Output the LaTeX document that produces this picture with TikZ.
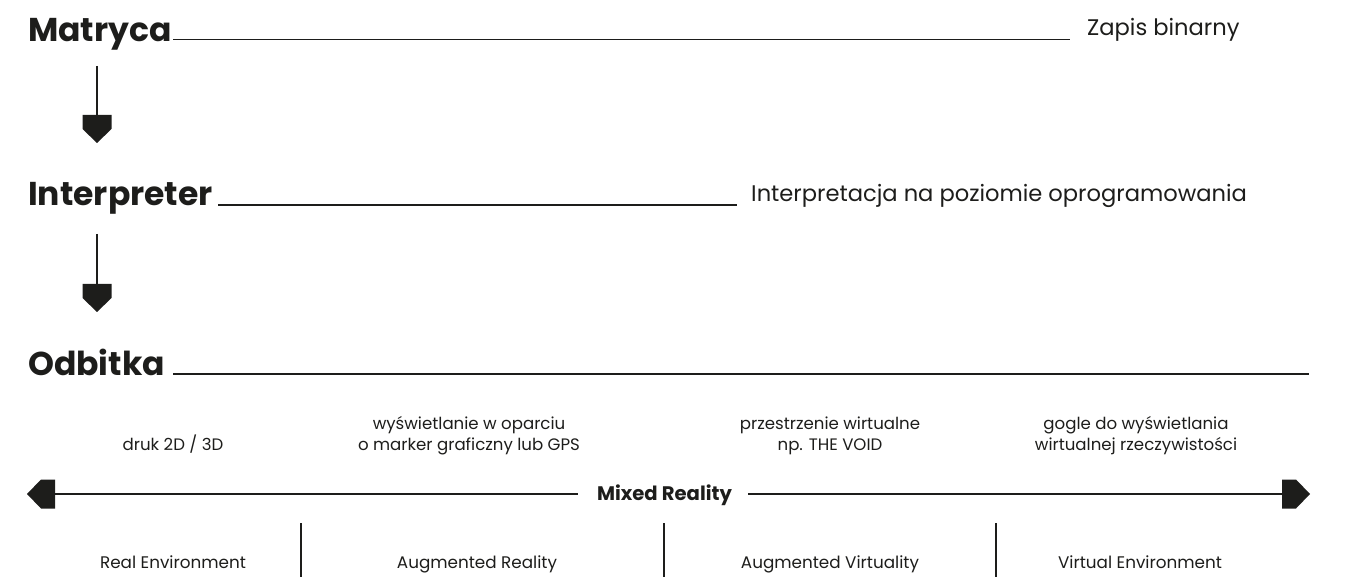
\documentclass[tikz,border=0pt]{standalone}
\usepackage{fontspec}
\setmainfont{Poppins}
\definecolor{ink}{HTML}{1D1D1B}
\begin{document}
\begin{tikzpicture}[x=1pt,y=-1pt,
  title/.style={font=\bfseries\fontsize{33}{40}\selectfont, text=ink, anchor=base west, inner sep=0pt},
  desc/.style={font=\fontsize{22.6}{26}\selectfont, text=ink, anchor=base west, inner sep=0pt},
  small/.style={font=\fontsize{16.6}{21}\selectfont, text=ink, align=center, inner sep=0pt},
  rule/.style={draw=ink, line width=1.6pt},
  stem/.style={draw=ink, line width=1.8pt},
  phead/.pic={\fill[ink] (0,0) -- (-14,14.5) -- (-28,14.5) -- (-28,-14.5) -- (-14,-14.5) -- cycle;}
]
\useasboundingbox (0,0) rectangle (1350,577);

% titles
\node[title] (mat) at (28,42) {Matryca};
\node[desc] (zap) at (1087,36) {Zapis binarny};
\node[title] (int) at (28,206) {Interpreter};
\node[desc] (intd) at (751,202) {Interpretacja na poziomie oprogramowania};
\node[title] (odb) at (28,376) {Odbitka};

\coordinate (matL) at (173,39.5);
\coordinate (matR) at (1070,39.5);
\coordinate (intL) at (218,205);
\coordinate (intR) at (737,205);
\coordinate (odbL) at (173,374);
\coordinate (odbR) at (1309,374);
\draw[rule] (matL) -- (matR);
\draw[rule] (intL) -- (intR);
\draw[rule] (odbL) -- (odbR);

% down arrows
\coordinate (a1s) at (97,66);
\coordinate (a1e) at (97,143);
\coordinate (a2s) at (97,234);
\coordinate (a2e) at (97,312);
\draw[stem] (a1s) -- ([yshift=14pt]a1e);
\pic[rotate=-90] at (a1e) {phead};
\draw[stem] (a2s) -- ([yshift=14pt]a2e);
\pic[rotate=-90] at (a2e) {phead};

% descriptions
\node[small, anchor=base] (d1) at (173,450) {druk 2D / 3D};
\node[small, anchor=base] (d2) at (469,450) {wyświetlanie w oparciu\\o marker graficzny lub GPS};
\node[small, anchor=base] (d3) at (830,450) {przestrzenie wirtualne\\np. THE VOID};
\node[small, anchor=base] (d4) at (1136,450) {gogle do wyświetlania\\wirtualnej rzeczywistości};

% mixed reality axis
\node[font=\bfseries\fontsize{19.6}{22}\selectfont, text=ink, inner sep=0pt, anchor=base] (mr) at (664.5,500) {Mixed Reality};
\coordinate (axL) at (27,494);
\coordinate (axR) at (1310,494);
\draw[stem] ([xshift=20pt]axL) -- ([xshift=-19pt]mr.west |- axL);
\draw[stem] ([xshift=16pt]mr.east |- axR) -- ([xshift=-20pt]axR);
\pic[rotate=180] at (axL) {phead};
\pic at (axR) {phead};

% separators
\coordinate (s1t) at (301,523); \coordinate (s1b) at (301,577);
\coordinate (s2t) at (664,523); \coordinate (s2b) at (664,577);
\coordinate (s3t) at (996,523); \coordinate (s3b) at (996,577);
\draw[stem] (s1t) -- (s1b);
\draw[stem] (s2t) -- (s2b);
\draw[stem] (s3t) -- (s3b);

% bottom labels
\node[small, font=\fontsize{16.8}{21}\selectfont, anchor=base] (e1) at (173,568) {Real Environment};
\node[small, font=\fontsize{16.8}{21}\selectfont, anchor=base] (e2) at (477,568) {Augmented Reality};
\node[small, font=\fontsize{16.8}{21}\selectfont, anchor=base] (e3) at (830,568) {Augmented Virtuality};
\node[small, font=\fontsize{16.8}{21}\selectfont, anchor=base] (e4) at (1140,568) {Virtual Environment};
\end{tikzpicture}
\end{document}
